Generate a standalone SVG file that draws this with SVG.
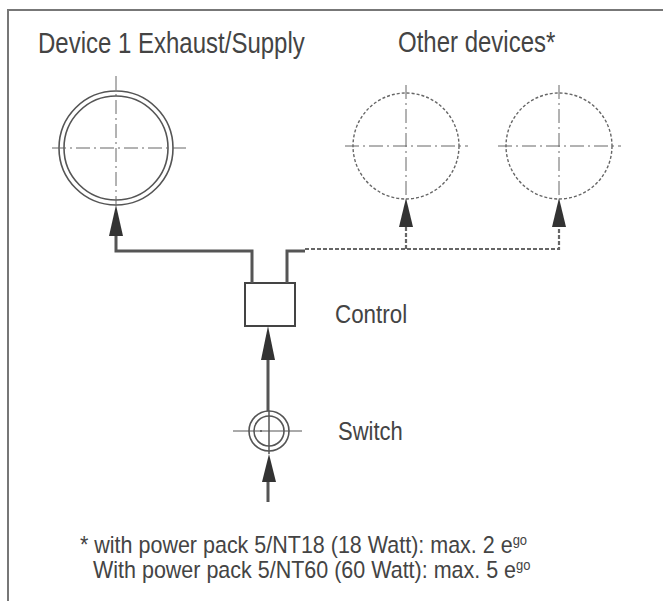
<svg xmlns="http://www.w3.org/2000/svg" width="663" height="601" viewBox="0 0 663 601">
<style>
text{font-family:"Liberation Sans",Arial,sans-serif;fill:#444}
.c{fill:none;stroke:#555;stroke-width:1.6}
.d{fill:none;stroke:#666;stroke-width:1.4;stroke-dasharray:3,2}
.ax{fill:none;stroke:#666;stroke-width:1;stroke-dasharray:14,4,2,4}
.w{fill:none;stroke:#555;stroke-width:3}
.wd{fill:none;stroke:#666;stroke-width:2.2;stroke-dasharray:4,2}
.ar{fill:#333}
</style>
<rect width="663" height="601" fill="#fff"/>
<path d="M8,601 V10 H663" fill="none" stroke="#777" stroke-width="2"/>
<g id="device1">
<text transform="translate(38,53) scale(1,1.22)" font-size="24">Device 1 Exhaust/Supply</text>
<circle class="c" cx="116" cy="148" r="57"/>
<circle class="c" cx="116" cy="148" r="52"/>
<path class="ax" d="M52,148 H186 M116,76 V205"/>
</g>
<g id="other1">
<text transform="translate(398,52) scale(1,1.22)" font-size="24">Other devices*</text>
<circle class="d" cx="406" cy="146" r="53"/>
<path class="ax" d="M345,146 H468 M406,85 V198"/>
</g>
<g id="other2">
<circle class="d" cx="559" cy="146" r="53"/>
<path class="ax" d="M498,146 H621 M559,85 V198"/>
</g>
<g id="control">
<rect x="245" y="283" width="50" height="43" fill="#fff" stroke="#444" stroke-width="2"/>
<text transform="translate(335,323) scale(1,1.18)" font-size="22.4">Control</text>
</g>
<g id="switch">
<circle class="c" cx="269" cy="431" r="20"/>
<circle class="c" cx="269" cy="431" r="15"/>
<path d="M233,431 H302" stroke="#555" stroke-width="1"/>
<circle cx="261" cy="431" r="1" fill="#555"/>
<text transform="translate(338,440) scale(1,1.18)" font-size="22">Switch</text>
</g>
<g id="connectors">
<path class="w" d="M116,235 V251 H252 V283"/>
<path class="w" d="M287,283 V251 H305"/>
<path class="wd" d="M305,249 H559 V227 M406,249 V227"/>
<polygon class="ar" points="116,205 109,236 123,236"/>
<polygon class="ar" points="406,198 399,227 413,227"/>
<polygon class="ar" points="559,198 552,227 566,227"/>
<path class="w" d="M268,358 V411 M268,480 V502"/>
<polygon class="ar" points="268,326 261,360 275,360"/>
<polygon class="ar" points="269,454 262,482 276,482"/>
<path d="M269,411 V454" stroke="#555" stroke-width="1.5"/>
</g>
<text transform="translate(80,553) scale(1,1.08)" font-size="21.5">* with power pack 5/NT18 (18 Watt): max. 2 e<tspan font-size="13" dy="-7">go</tspan></text>
<text transform="translate(93,578) scale(1,1.08)" font-size="21.5">With power pack 5/NT60 (60 Watt): max. 5 e<tspan font-size="13" dy="-7">go</tspan></text>
</svg>
